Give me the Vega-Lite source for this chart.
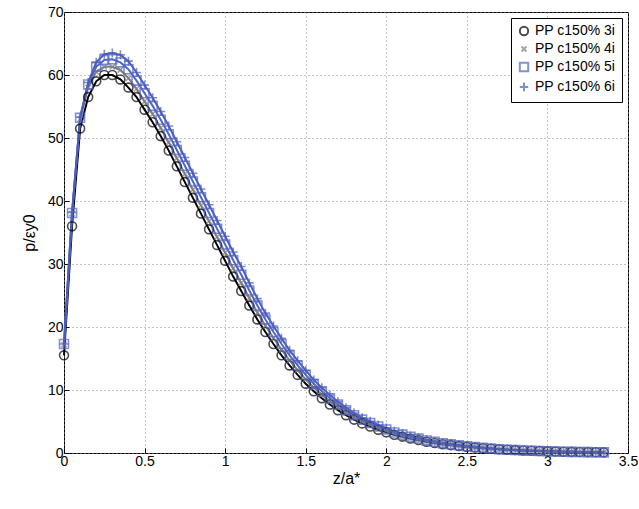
{
"$schema":"https://vega.github.io/schema/vega-lite/v6.json",
"width":564,"height":441,"autosize":{"type":"none"},
"padding":{"left":64,"top":12,"right":11,"bottom":56},
"background":"white",
"config":{"view":{"stroke":"black","strokeWidth":1},"font":"Liberation Sans",
"axis":{"grid":true,"gridDash":[1,3],"gridColor":"#888","gridOpacity":1,"domain":false,"tickColor":"black","tickSize":-5,"labelColor":"black","labelFontSize":14,"titleFontSize":16,"titleFontWeight":"normal","titleColor":"black","labelPadding":6,"labelFlush":false}},
"data":{"values":[
{"z":0,"a":15.5,"b":17.2,"c":17.3,"d":17.3},
{"z":0.05,"a":36,"b":38,"c":38.1,"d":38.2},
{"z":0.1,"a":51.5,"b":53,"c":53.2,"d":53.3},
{"z":0.15,"a":56.5,"b":58,"c":58.5,"d":58.8},
{"z":0.2,"a":59,"b":60.5,"c":61.3,"d":62},
{"z":0.25,"a":60,"b":61.3,"c":62.4,"d":63.3},
{"z":0.3,"a":60,"b":61.3,"c":62.5,"d":63.5},
{"z":0.35,"a":59.3,"b":60.8,"c":62,"d":63.2},
{"z":0.4,"a":58,"b":59.5,"c":60.9,"d":62.2},
{"z":0.45,"a":56.5,"b":57.8,"c":59.1,"d":60.4},
{"z":0.5,"a":54.5,"b":55.8,"c":57.1,"d":58.4},
{"z":0.55,"a":52.5,"b":53.8,"c":55.1,"d":56.4},
{"z":0.6,"a":50.3,"b":51.6,"c":52.9,"d":54.2},
{"z":0.65,"a":48,"b":49.3,"c":50.6,"d":51.9},
{"z":0.7,"a":45.5,"b":46.8,"c":48.1,"d":49.4},
{"z":0.75,"a":43,"b":44.3,"c":45.6,"d":46.9},
{"z":0.8,"a":40.5,"b":41.8,"c":43.1,"d":44.4},
{"z":0.85,"a":38,"b":39.3,"c":40.6,"d":41.9},
{"z":0.9,"a":35.5,"b":36.8,"c":38.1,"d":39.4},
{"z":0.95,"a":33,"b":34.3,"c":35.6,"d":36.9},
{"z":1.0,"a":30.5,"b":31.8,"c":33.1,"d":34.4},
{"z":1.05,"a":28,"b":29.3,"c":30.6,"d":31.9},
{"z":1.1,"a":25.7,"b":27,"c":28.3,"d":29.6},
{"z":1.15,"a":23.4,"b":24.6,"c":25.8,"d":27},
{"z":1.2,"a":21.2,"b":22.3,"c":23.4,"d":24.5},
{"z":1.25,"a":19.2,"b":20.2,"c":21.2,"d":22.2},
{"z":1.3,"a":17.3,"b":18.25,"c":19.2,"d":20.15},
{"z":1.35,"a":15.5,"b":16.4,"c":17.3,"d":18.2},
{"z":1.4,"a":13.9,"b":14.7,"c":15.5,"d":16.3},
{"z":1.45,"a":12.4,"b":13.15,"c":13.9,"d":14.65},
{"z":1.5,"a":11,"b":11.7,"c":12.4,"d":13.1},
{"z":1.55,"a":9.8,"b":10.4,"c":11,"d":11.6},
{"z":1.6,"a":8.7,"b":9.25,"c":9.8,"d":10.35},
{"z":1.65,"a":7.7,"b":8.2,"c":8.7,"d":9.2},
{"z":1.7,"a":6.8,"b":7.25,"c":7.7,"d":8.15},
{"z":1.75,"a":6.0,"b":6.4,"c":6.8,"d":7.2},
{"z":1.8,"a":5.3,"b":5.65,"c":6,"d":6.35},
{"z":1.85,"a":4.7,"b":5,"c":5.3,"d":5.6},
{"z":1.9,"a":4.2,"b":4.48,"c":4.76,"d":5.04},
{"z":1.95,"a":3.7,"b":3.95,"c":4.2,"d":4.45},
{"z":2.0,"a":3.3,"b":3.52,"c":3.74,"d":3.96},
{"z":2.05,"a":2.9,"b":3.08,"c":3.26,"d":3.44},
{"z":2.1,"a":2.6,"b":2.76,"c":2.92,"d":3.08},
{"z":2.15,"a":2.3,"b":2.44,"c":2.58,"d":2.72},
{"z":2.2,"a":2.05,"b":2.17,"c":2.29,"d":2.41},
{"z":2.25,"a":1.8,"b":1.9,"c":2,"d":2.1},
{"z":2.3,"a":1.6,"b":1.69,"c":1.78,"d":1.87},
{"z":2.35,"a":1.4,"b":1.48,"c":1.56,"d":1.64},
{"z":2.4,"a":1.25,"b":1.32,"c":1.39,"d":1.46},
{"z":2.45,"a":1.1,"b":1.16,"c":1.22,"d":1.28},
{"z":2.5,"a":0.97,"b":1.02,"c":1.07,"d":1.12},
{"z":2.55,"a":0.86,"b":0.9,"c":0.94,"d":0.98},
{"z":2.6,"a":0.76,"b":0.79,"c":0.82,"d":0.85},
{"z":2.65,"a":0.67,"b":0.69,"c":0.71,"d":0.73},
{"z":2.7,"a":0.59,"b":0.6,"c":0.61,"d":0.62},
{"z":2.75,"a":0.52,"b":0.52,"c":0.52,"d":0.52},
{"z":2.8,"a":0.46,"b":0.46,"c":0.46,"d":0.46},
{"z":2.85,"a":0.4,"b":0.4,"c":0.4,"d":0.4},
{"z":2.9,"a":0.35,"b":0.35,"c":0.35,"d":0.35},
{"z":2.95,"a":0.31,"b":0.31,"c":0.31,"d":0.31},
{"z":3.0,"a":0.27,"b":0.27,"c":0.27,"d":0.27},
{"z":3.05,"a":0.24,"b":0.24,"c":0.24,"d":0.24},
{"z":3.1,"a":0.21,"b":0.21,"c":0.21,"d":0.21},
{"z":3.15,"a":0.18,"b":0.18,"c":0.18,"d":0.18},
{"z":3.2,"a":0.16,"b":0.16,"c":0.16,"d":0.16},
{"z":3.25,"a":0.14,"b":0.14,"c":0.14,"d":0.14},
{"z":3.3,"a":0.12,"b":0.12,"c":0.12,"d":0.12},
{"z":3.35,"a":0.1,"b":0.1,"c":0.1,"d":0.1}
]},
"transform":[{"fold":["a","b","c","d"],"as":["s","p"]}],
"encoding":{
"x":{"field":"z","type":"quantitative","scale":{"domain":[0,3.5],"nice":false},"axis":{"values":[0,0.5,1,1.5,2,2.5,3,3.5],"format":"~g","title":"z/a*","titlePadding":2}},
"y":{"field":"p","type":"quantitative","scale":{"domain":[0,70],"nice":false},"axis":{"values":[0,10,20,30,40,50,60,70],"format":"d","title":"p/εy0","titlePadding":10}},
"color":{"field":"s","type":"nominal","scale":{"domain":["a","b","c","d"],"range":["#000000","#7f7f7f","#5065c8","#4a5cbf"]},
"legend":{"title":null,"orient":"top-right","offset":6,"labelExpr":"{'a':'PP c150% 3i','b':'PP c150% 4i','c':'PP c150% 5i','d':'PP c150% 6i'}[datum.value]","labelFontSize":14,"labelColor":"black","strokeColor":"black","fillColor":"white","padding":6,"symbolSize":70,"symbolStrokeWidth":2,"rowPadding":2}}
},
"layer":[
{"mark":{"type":"line","strokeWidth":2}},
{"mark":{"type":"point","filled":false,"strokeWidth":1.6,"size":80},
"encoding":{"shape":{"field":"s","type":"nominal","scale":{"domain":["a","b","c","d"],"range":["circle","M-0.6,-0.6L0.6,0.6M-0.6,0.6L0.6,-0.6","square","M-1,0L1,0M0,-1L0,1"]},"legend":{"title":null}}}}
]
}
